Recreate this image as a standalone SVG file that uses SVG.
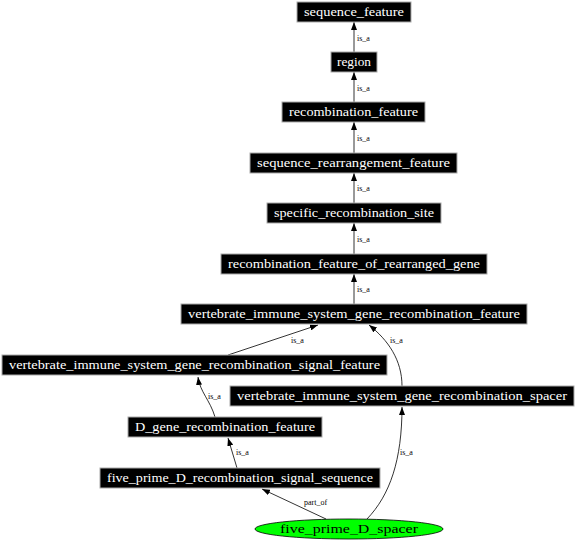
<svg xmlns="http://www.w3.org/2000/svg" width="576" height="545" viewBox="0 0 576 545">
<style>
.box{fill:#000;stroke:#aaa;stroke-width:1}
.lbl{font-family:"Liberation Serif","DejaVu Serif",serif;font-size:12px;fill:#fff;text-anchor:middle}
.elbl{font-family:"Liberation Serif","DejaVu Serif",serif;font-size:12px;fill:#000;text-anchor:middle}
.e{fill:none;stroke:#000;stroke-width:0.8;marker-end:url(#ah)}
.el{font-family:"Liberation Serif","DejaVu Serif",serif;font-size:8px;fill:#000}
</style>
<defs>
<marker id="ah" viewBox="0 0 8 6" refX="8" refY="3" markerWidth="8" markerHeight="6" markerUnits="userSpaceOnUse" orient="auto">
<path d="M0,0 L8,3 L0,6 Z" fill="#000"/>
</marker>
</defs>
<rect width="576" height="545" fill="#fff"/>
<g id="connectors">
<path class="e" d="M354,52 L354,22"/>
<text class="el" x="357" y="41">is_a</text>
<path class="e" d="M354,102 L354,72"/>
<text class="el" x="357" y="91">is_a</text>
<path class="e" d="M354,153 L354,122"/>
<text class="el" x="357" y="141">is_a</text>
<path class="e" d="M354,203 L354,173"/>
<text class="el" x="357" y="191">is_a</text>
<path class="e" d="M354,254 L354,223"/>
<text class="el" x="357" y="242">is_a</text>
<path class="e" d="M354,304 L354,274"/>
<text class="el" x="357" y="292">is_a</text>
<path class="e" d="M228,355 L318,325"/>
<text class="el" x="291" y="343">is_a</text>
<path class="e" d="M402,386 C402,360 388,340 369,325"/>
<text class="el" x="390" y="343">is_a</text>
<path class="e" d="M215,417 C210,400 200,392 198,377"/>
<text class="el" x="208" y="399">is_a</text>
<path class="e" d="M237,468 L228,438"/>
<text class="el" x="236" y="455">is_a</text>
<path class="e" d="M326,519 L262,489"/>
<text class="el" x="304" y="505">part_of</text>
<path class="e" d="M367,519 C390,495 402,460 402,407"/>
<text class="el" x="400" y="455">is_a</text>
</g>
<g id="n1"><rect class="box" x="297" y="2" width="114" height="20"/><text class="lbl" x="354" y="16" textLength="100" lengthAdjust="spacingAndGlyphs">sequence_feature</text></g>
<g id="n2"><rect class="box" x="331" y="52" width="46" height="20"/><text class="lbl" x="354" y="66" textLength="34" lengthAdjust="spacingAndGlyphs">region</text></g>
<g id="n3"><rect class="box" x="282" y="102" width="143" height="20"/><text class="lbl" x="353.5" y="116" textLength="129" lengthAdjust="spacingAndGlyphs">recombination_feature</text></g>
<g id="n4"><rect class="box" x="250" y="153" width="207" height="20"/><text class="lbl" x="353.5" y="167" textLength="193" lengthAdjust="spacingAndGlyphs">sequence_rearrangement_feature</text></g>
<g id="n5"><rect class="box" x="267" y="203" width="174" height="20"/><text class="lbl" x="354" y="217" textLength="160" lengthAdjust="spacingAndGlyphs">specific_recombination_site</text></g>
<g id="n6"><rect class="box" x="221" y="254" width="266" height="20"/><text class="lbl" x="354" y="268" textLength="252" lengthAdjust="spacingAndGlyphs">recombination_feature_of_rearranged_gene</text></g>
<g id="n7"><rect class="box" x="181" y="304" width="346" height="20"/><text class="lbl" x="354" y="318" textLength="332" lengthAdjust="spacingAndGlyphs">vertebrate_immune_system_gene_recombination_feature</text></g>
<g id="n8"><rect class="box" x="2" y="355" width="385" height="20"/><text class="lbl" x="194.5" y="369" textLength="371" lengthAdjust="spacingAndGlyphs">vertebrate_immune_system_gene_recombination_signal_feature</text></g>
<g id="n9"><rect class="box" x="230" y="386" width="344" height="20"/><text class="lbl" x="402" y="400" textLength="330" lengthAdjust="spacingAndGlyphs">vertebrate_immune_system_gene_recombination_spacer</text></g>
<g id="n10"><rect class="box" x="128" y="417" width="194" height="20"/><text class="lbl" x="225" y="431" textLength="180" lengthAdjust="spacingAndGlyphs">D_gene_recombination_feature</text></g>
<g id="n11"><rect class="box" x="100" y="468" width="280" height="20"/><text class="lbl" x="240" y="482" textLength="266" lengthAdjust="spacingAndGlyphs">five_prime_D_recombination_signal_sequence</text></g>
<g id="n12"><ellipse cx="349" cy="529" rx="94" ry="10" fill="#00ff00" stroke="#000" stroke-width="0.8"/><text class="elbl" x="349" y="533" textLength="138" lengthAdjust="spacingAndGlyphs">five_prime_D_spacer</text></g>
</svg>
